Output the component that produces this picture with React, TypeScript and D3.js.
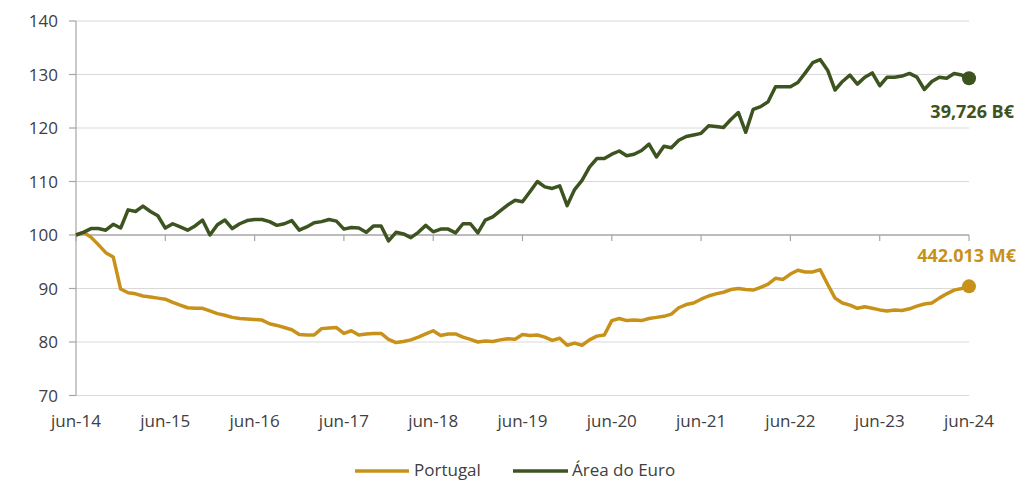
import React from 'react';
import * as d3 from 'd3';

// monthly index, jun-14 = 100
const yearLabels = ['jun-14', 'jun-15', 'jun-16', 'jun-17', 'jun-18', 'jun-19', 'jun-20', 'jun-21', 'jun-22', 'jun-23', 'jun-24'];
const yTicks = [70, 80, 90, 100, 110, 120, 130, 140];

const portugal = [
  100, 100.5, 99.6, 98.2, 96.7, 95.9, 89.9, 89.2, 89.0, 88.6, 88.4, 88.2,
  88.0, 87.4, 86.9, 86.4, 86.3, 86.3, 85.8, 85.3, 85.0, 84.6, 84.4, 84.3,
  84.2, 84.1, 83.4, 83.1, 82.7, 82.3, 81.4, 81.3, 81.3, 82.5, 82.6, 82.7,
  81.6, 82.1, 81.3, 81.5, 81.6, 81.6, 80.5, 79.9, 80.1, 80.4, 80.9, 81.5,
  82.1, 81.2, 81.5, 81.5, 80.9, 80.5, 80.0, 80.2, 80.1, 80.4, 80.6, 80.5,
  81.4, 81.2, 81.3, 80.9, 80.3, 80.7, 79.4, 79.8, 79.4, 80.4, 81.1, 81.3,
  84.0, 84.4, 84.0, 84.1, 84.0, 84.4, 84.6, 84.8, 85.2, 86.4, 87.0, 87.3,
  88.0, 88.6, 89.0, 89.3, 89.8, 90.0, 89.8, 89.7, 90.2, 90.8, 91.9, 91.7,
  92.7, 93.4, 93.1, 93.1, 93.5, 90.8, 88.2, 87.3, 86.9, 86.3, 86.6, 86.3,
  86.0, 85.8, 86.0, 85.9, 86.2, 86.7, 87.1, 87.3, 88.2, 89.0, 89.7, 90.0,
  90.4,
];

const euroArea = [
  100, 100.5, 101.2, 101.2, 100.9, 102.0, 101.3, 104.7, 104.4, 105.4, 104.4, 103.6,
  101.3, 102.1, 101.5, 100.9, 101.7, 102.8, 100.0, 101.9, 102.8, 101.2, 102.1, 102.7,
  102.9, 102.9, 102.5, 101.8, 102.1, 102.7, 100.9, 101.5, 102.3, 102.5, 102.9, 102.6,
  101.1, 101.4, 101.3, 100.5, 101.7, 101.7, 98.9, 100.5, 100.2, 99.5, 100.5, 101.8,
  100.6, 101.1, 101.1, 100.4, 102.1, 102.1, 100.4, 102.8, 103.4, 104.5, 105.6, 106.5,
  106.2, 108.1, 110.0, 109.0, 108.7, 109.2, 105.5, 108.5, 110.2, 112.7, 114.3, 114.3,
  115.1, 115.7, 114.8, 115.1, 115.8, 117.0, 114.6, 116.6, 116.3, 117.7, 118.4, 118.7,
  119.0, 120.4, 120.3, 120.1, 121.6, 122.9, 119.2, 123.5, 124.0, 124.9, 127.7, 127.7,
  127.7, 128.5, 130.3, 132.2, 132.8, 130.8, 127.1, 128.7, 129.9, 128.2, 129.5, 130.3,
  127.9, 129.5, 129.5, 129.7, 130.2, 129.5, 127.2, 128.7, 129.5, 129.3, 130.2, 129.9,
  129.3,
];

const lastLabels = { portugal: '442.013 M€', euro: '39,726 B€' };

const GOLD = '#C8921A';
const GREEN = '#3D5420';
const TEXT = '#404040';
const FONT = '"Open Sans", sans-serif';

export default function App() {
  const width = 1019;
  const height = 482;
  const x = d3.scaleLinear().domain([0, 120]).range([76, 969]);
  const y = d3.scaleLinear().domain([70, 140]).range([395.5, 21]);
  const line = d3.line<number>().x((_, i) => x(i)).y(d => y(d));
  const last = portugal.length - 1;

  return (
    <svg width={width} height={height} style={{ position: 'absolute', left: 0, top: 0 }} fontFamily={FONT}>
      {/* gridlines */}
      {yTicks.filter(t => t !== 100).map(t => (
        <line key={t} x1={x(0)} x2={x(120)} y1={y(t)} y2={y(t)} stroke="#D9D9D9" strokeWidth={1.2} />
      ))}
      {/* y axis */}
      <line x1={x(0)} x2={x(0)} y1={y(140)} y2={y(70)} stroke="#A6A6A6" strokeWidth={1.2} />
      {yTicks.map(t => (
        <g key={t}>
          <line x1={x(0) - 7} x2={x(0)} y1={y(t)} y2={y(t)} stroke="#A6A6A6" strokeWidth={1.2} />
          <text x={58} y={y(t)} dy="0.36em" textAnchor="end" fontSize={17} fill={TEXT}>{t}</text>
        </g>
      ))}
      {/* category axis crossing at 100 */}
      <line x1={x(0)} x2={x(120)} y1={y(100)} y2={y(100)} stroke="#A6A6A6" strokeWidth={1.4} />
      {yearLabels.map((lab, i) => (
        <g key={lab}>
          <line x1={x(i * 12)} x2={x(i * 12)} y1={y(100)} y2={y(100) + 6} stroke="#A6A6A6" strokeWidth={1.2} />
          <text x={x(i * 12)} y={427} textAnchor="middle" fontSize={17} fill={TEXT}>{lab}</text>
        </g>
      ))}
      {/* series */}
      <path d={line(portugal) || ''} fill="none" stroke={GOLD} strokeWidth={3.5} strokeLinejoin="round" />
      <path d={line(euroArea) || ''} fill="none" stroke={GREEN} strokeWidth={3.5} strokeLinejoin="round" />
      <circle cx={x(last)} cy={y(portugal[last])} r={7} fill={GOLD} />
      <circle cx={x(last)} cy={y(euroArea[last])} r={7} fill={GREEN} />
      <text x={1014} y={118} textAnchor="end" fontSize={18} fontWeight="bold" fill={GREEN}>{lastLabels.euro}</text>
      <text x={1016} y={262} textAnchor="end" fontSize={18} fontWeight="bold" fill={GOLD}>{lastLabels.portugal}</text>
      {/* legend */}
      <line x1={355} x2={409} y1={471} y2={471} stroke={GOLD} strokeWidth={3.5} />
      <text x={414} y={476} fontSize={17} fill={TEXT}>Portugal</text>
      <line x1={513} x2={568} y1={471} y2={471} stroke={GREEN} strokeWidth={3.5} />
      <text x={572} y={476} fontSize={17} fill={TEXT}>Área do Euro</text>
    </svg>
  );
}
